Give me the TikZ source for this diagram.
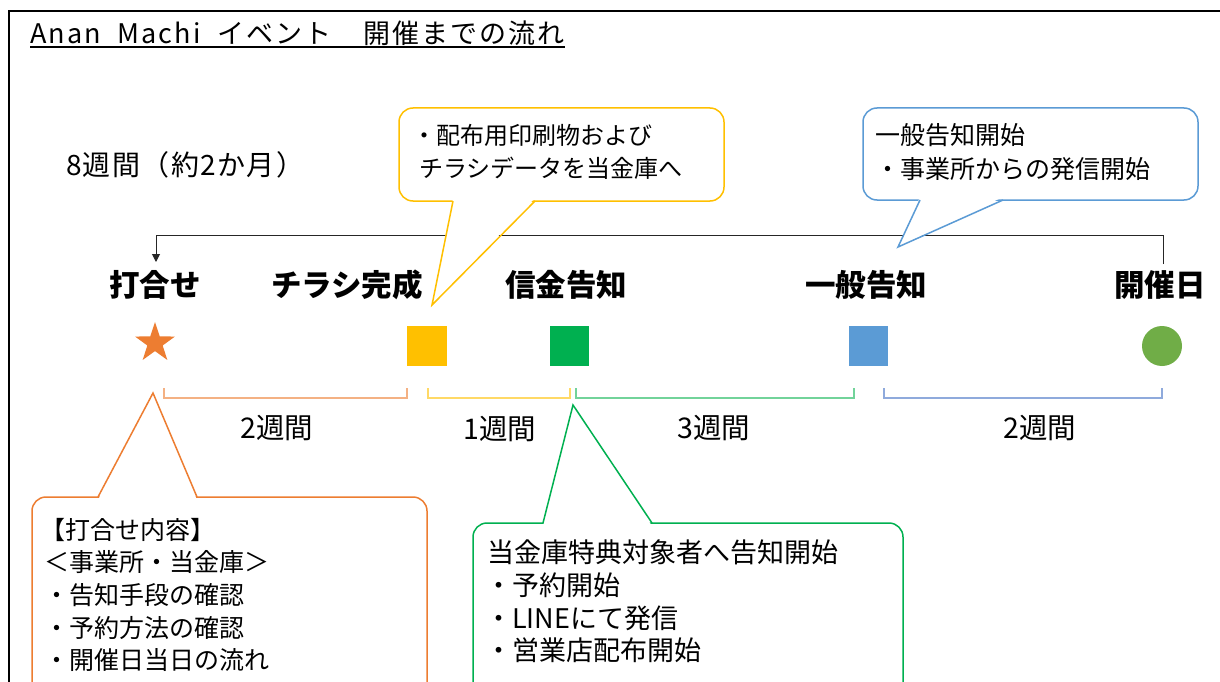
\documentclass[tikz,border=0pt]{standalone}
\usepackage{fontspec}
\setmainfont{Noto Sans CJK JP}
\usetikzlibrary{arrows.meta,shapes.geometric}
\definecolor{cOr}{HTML}{ED7D31}
\definecolor{cYe}{HTML}{FFC000}
\definecolor{cGr}{HTML}{00B050}
\definecolor{cBl}{HTML}{5B9BD5}
\definecolor{cCi}{HTML}{70AD47}
\definecolor{bOr}{HTML}{F4B183}
\definecolor{bYe}{HTML}{FFD966}
\definecolor{bGr}{HTML}{72D39A}
\definecolor{bBl}{HTML}{8FAADC}
\begin{document}
\begin{tikzpicture}[x=1pt,y=-1pt,
  every node/.style={inner sep=0pt,outer sep=0pt},
  fsz/.style={font=\fontsize{#1}{#1}\selectfont},
  lbl/.style={font=\fontsize{30.5}{30.5}\selectfont\bfseries},
  txt/.style={anchor=west,font=\fontsize{24}{24}\selectfont},
  wk/.style={font=\fontsize{28.5}{28.5}\selectfont},
  brk/.style={line width=1.2pt},
  cbox/.style={line width=1.5pt,fill=white,rounded corners=14pt},
  cptr/.style={line width=1.5pt,line join=miter},
  tline/.style={line width=1pt,black!85,-{Triangle[length=8pt,width=8pt]}}]
\useasboundingbox (0,0) rectangle (1220,682);
\fill[white] (0,0) rectangle (1220,682);
% frame
\draw[line width=2pt] (9,690) -- (9,11) -- (1225,11);
% title
\node[anchor=west,font=\fontsize{27}{27}\selectfont\addfontfeature{LetterSpace=8}] (title) at (30,33) {Anan\ \ Machi\ \ イベント　開催までの流れ};
\coordinate (ul) at (0,47);
\draw[line width=1.5pt] (title.west |- ul) -- (title.east |- ul);
% total
\node[anchor=west,font=\fontsize{28}{28}\selectfont\addfontfeature{LetterSpace=5}] (total) at (66,165) {8週間（約2か月）};
% labels
\node[lbl] (n1) at (155,285) {打合せ};
\node[lbl] (n2) at (347,285) {チラシ完成};
\node[lbl] (n3) at (566,285) {信金告知};
\node[lbl] (n4) at (866,285) {一般告知};
\node[lbl] (n5) at (1160,285) {開催日};
% timeline
\coordinate (aL) at (156,262);
\coordinate (aR) at (1163,264);
\coordinate (top) at (0,235);
\draw[tline] (aR) -- (aR |- top) -| (aL);
% markers
\node[star,star points=5,star point ratio=2.6,fill=cOr,minimum size=42pt] (m1) at (155,343) {};
\node[fill=cYe,minimum size=39.5pt] (m2) at (427,346) {};
\node[fill=cGr,minimum size=39.5pt] (m3) at (569.5,346) {};
\node[fill=cBl,minimum size=39.5pt] (m4) at (868.5,346) {};
\node[circle,fill=cCi,minimum size=40pt] (m5) at (1162,346) {};
% brackets
\draw[brk,bOr] (164,388) -- (164,398) -- (407,398) -- (407,388);
\draw[brk,bYe] (428,388) -- (428,398) -- (570,398) -- (570,388);
\draw[brk,bGr] (576,388) -- (576,398) -- (854,398) -- (854,388);
\draw[brk,bBl] (884,388) -- (884,398) -- (1162,398) -- (1162,388);
\node[wk] (w1) at (277,428) {2週間};
\node[wk] (w2) at (500,429) {1週間};
\node[wk] (w3) at (714,428) {3週間};
\node[wk] (w4) at (1040,428) {2週間};
% yellow callout
\coordinate (yT) at (432,305);
\draw[cbox,draw=cYe] (399,108) rectangle (724,201);
\fill[white] (453,198) -- (535,198) -- (yT) -- cycle;
\draw[cptr,draw=cYe] (453,201) -- (yT) -- (535,201);
\node[txt] (y1) at (412,135) {・配布用印刷物および};
\node[txt] (y2) at (419,168) {チラシデータを当金庫へ};
% blue callout
\coordinate (bT) at (898,247);
\draw[cbox,draw=cBl] (863,108) rectangle (1198,200);
\fill[white] (920,197) -- (1003,197) -- (bT) -- cycle;
\draw[cptr,draw=cBl] (920,200) -- (bT) -- (1003,200);
\node[txt,fsz=25] (b1) at (875,135) {一般告知開始};
\node[txt,fsz=25] (b2) at (875,169) {・事業所からの発信開始};
% orange callout
\coordinate (oT) at (153,393);
\draw[cbox,draw=cOr] (32,497) rectangle (427,710);
\fill[white] (98,500) -- (197,500) -- (oT) -- cycle;
\draw[cptr,draw=cOr] (98,497) -- (oT) -- (197,497);
\node[txt,fsz=25] (o1) at (40,530) {【打合せ内容】};
\node[txt,fsz=25] (o2) at (44,562) {＜事業所・当金庫＞};
\node[txt,fsz=25] (o3) at (44,595) {・告知手段の確認};
\node[txt,fsz=25] (o4) at (44,628) {・予約方法の確認};
\node[txt,fsz=25] (o5) at (44,660) {・開催日当日の流れ};
% green callout
\coordinate (gT) at (573,405);
\draw[cbox,draw=cGr] (473,523) rectangle (903,710);
\fill[white] (543,526) -- (652,526) -- (gT) -- cycle;
\draw[cptr,draw=cGr] (543,523) -- (gT) -- (652,523);
\node[txt,fsz=27] (g1) at (487,552) {当金庫特典対象者へ告知開始};
\node[txt,fsz=27] (g2) at (485,585) {・予約開始};
\node[txt,fsz=27] (g3) at (485,618) {・LINEにて発信};
\node[txt,fsz=27] (g4) at (485,650) {・営業店配布開始};
\end{tikzpicture}
\end{document}
